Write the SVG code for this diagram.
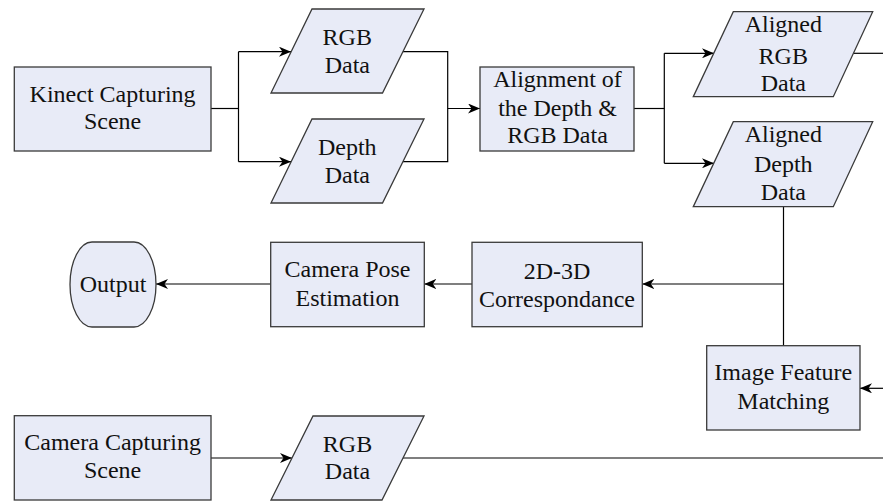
<svg xmlns="http://www.w3.org/2000/svg" width="883" height="501" viewBox="0 0 883 501">
<defs>
<style>
.n{fill:#e8ebf7;stroke:#3a3a3a;stroke-width:1.3}
.t{font-family:"Liberation Serif","Times New Roman",serif;font-size:24px;fill:#111;text-anchor:middle}
.c{fill:none;stroke:#000;stroke-width:1.2}
</style>
<marker id="ah" viewBox="0 0 12 10" refX="12" refY="5" markerWidth="12" markerHeight="10" markerUnits="userSpaceOnUse" orient="auto">
<path d="M0,0 L12,5 L0,10 L3.5,5 z" fill="#000"/>
</marker>
</defs>
<rect width="883" height="501" fill="#fff"/>
<g id="connectors">
<path class="c" d="M211,108.5 H238.5"/>
<path class="c" d="M238.5,51.7 V161.7"/>
<path class="c" d="M238.5,51.7 H291" marker-end="url(#ah)"/>
<path class="c" d="M238.5,161.7 H291" marker-end="url(#ah)"/>
<path class="c" d="M403,51.7 H447.7 V161.7 H403"/>
<path class="c" d="M447.7,108.5 H480" marker-end="url(#ah)"/>
<path class="c" d="M634,108.5 H664.3"/>
<path class="c" d="M664.3,53.3 V163.3"/>
<path class="c" d="M664.3,53.3 H714" marker-end="url(#ah)"/>
<path class="c" d="M664.3,163.3 H714" marker-end="url(#ah)"/>
<path class="c" d="M853.4,53.3 H883"/>
<path class="c" d="M783.5,206.7 V345.7"/>
<path class="c" d="M783.5,284 H642.3" marker-end="url(#ah)"/>
<path class="c" d="M472,284 H424.3" marker-end="url(#ah)"/>
<path class="c" d="M270.7,284 H156" marker-end="url(#ah)"/>
<path class="c" d="M883,388.3 H860" marker-end="url(#ah)"/>
<path class="c" d="M211,458 H292" marker-end="url(#ah)"/>
<path class="c" d="M403,458 H883"/>
</g>
<g id="kinect">
<rect class="n" x="14.3" y="67" width="196.7" height="84"/>
<text class="t" x="112.6" y="101.7">Kinect Capturing</text>
<text class="t" x="112.6" y="129.3">Scene</text>
</g>
<g id="rgb-data">
<polygon class="n" points="312,9 424,9 382.5,93 271,93"/>
<text class="t" x="347.3" y="45">RGB</text>
<text class="t" x="347.3" y="72.7">Data</text>
</g>
<g id="depth-data">
<polygon class="n" points="312,119 424,119 382.5,203 271,203"/>
<text class="t" x="347.3" y="155">Depth</text>
<text class="t" x="347.3" y="182.7">Data</text>
</g>
<g id="alignment">
<rect class="n" x="480" y="67" width="154" height="84"/>
<text class="t" x="557.5" y="87.3">Alignment of</text>
<text class="t" x="557.5" y="116">the Depth &amp;</text>
<text class="t" x="557.5" y="143.3">RGB Data</text>
</g>
<g id="aligned-rgb">
<polygon class="n" points="733.3,11.7 872.7,11.7 833.3,96.7 693.3,96.7"/>
<text class="t" x="783.3" y="32">Aligned</text>
<text class="t" x="783.3" y="64">RGB</text>
<text class="t" x="783.3" y="90.7">Data</text>
</g>
<g id="aligned-depth">
<polygon class="n" points="733.3,121.7 872.7,121.7 833.3,206.7 693.3,206.7"/>
<text class="t" x="783.3" y="141.7">Aligned</text>
<text class="t" x="783.3" y="172">Depth</text>
<text class="t" x="783.3" y="200">Data</text>
</g>
<g id="correspondance">
<rect class="n" x="472" y="242.3" width="170.3" height="84.4"/>
<text class="t" x="557" y="279">2D-3D</text>
<text class="t" x="557" y="306.5">Correspondance</text>
</g>
<g id="camera-pose">
<rect class="n" x="270.7" y="242.3" width="153.6" height="84.4"/>
<text class="t" x="347.5" y="277.3">Camera Pose</text>
<text class="t" x="347.5" y="306">Estimation</text>
</g>
<g id="output">
<rect class="n" x="70" y="242" width="86" height="85" rx="22" ry="42.5"/>
<text class="t" x="113" y="291.7">Output</text>
</g>
<g id="feature-matching">
<rect class="n" x="706.7" y="345.7" width="153.3" height="84.3"/>
<text class="t" x="783.3" y="380">Image Feature</text>
<text class="t" x="783.3" y="409">Matching</text>
</g>
<g id="camera-capturing">
<rect class="n" x="14.3" y="415.7" width="196.7" height="84.3"/>
<text class="t" x="112.6" y="450">Camera Capturing</text>
<text class="t" x="112.6" y="478.3">Scene</text>
</g>
<g id="rgb-data-2">
<polygon class="n" points="313,416 424,416 382,500 271,500"/>
<text class="t" x="347.5" y="451.7">RGB</text>
<text class="t" x="347.5" y="479.3">Data</text>
</g>
</svg>
